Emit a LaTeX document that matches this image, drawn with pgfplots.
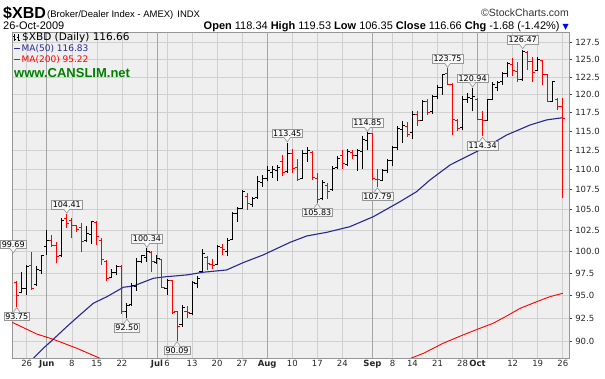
\documentclass[border=0pt]{standalone}
\usepackage{pgfplots}
\usepackage{pgfplotstable}
\usepackage{fontspec}
\pgfplotsset{compat=1.18}
\setmainfont{Liberation Sans}
\newfontfamily\dv{DejaVu Sans}
\definecolor{maBlue}{RGB}{40,40,150}
\definecolor{cgreen}{RGB}{0,128,0}
\definecolor{bgGray}{RGB}{239,239,239}
\definecolor{gridGray}{RGB}{208,208,208}
\definecolor{monthGray}{RGB}{165,165,165}
\definecolor{frameGray}{RGB}{150,150,150}
\definecolor{lblfill}{RGB}{246,246,246}
\definecolor{lblborder}{RGB}{150,150,150}

\pgfdeclareplotmark{otick}{\pgfpathmoveto{\pgfqpoint{-2.6pt}{0pt}}\pgfpathlineto{\pgfqpoint{0.4pt}{0pt}}\pgfusepathqstroke}
\pgfdeclareplotmark{ctick}{\pgfpathmoveto{\pgfqpoint{-0.4pt}{0pt}}\pgfpathlineto{\pgfqpoint{2.6pt}{0pt}}\pgfusepathqstroke}
\pgfdeclareplotmark{nomark}{}

\tikzset{lblbox/.style={draw=lblborder, fill=lblfill, inner xsep=1.4pt, inner ysep=1.3pt, font=\dv\fontsize{8}{9}\selectfont, line width=0.6pt}}
\newcommand{\hilab}[3]{%
  \node[lblbox, anchor=south] (L) at ([yshift=5pt]axis cs:#1,#2) {#3};
  \fill[lblfill] ([xshift=-3pt,yshift=0.7pt]L.south) -- ([yshift=1pt]axis cs:#1,#2) -- ([xshift=3pt,yshift=0.7pt]L.south) -- cycle;
  \draw[lblborder, line width=0.6pt] ([xshift=-3pt]L.south) -- ([yshift=1pt]axis cs:#1,#2) -- ([xshift=3pt]L.south);
}
\newcommand{\lolab}[3]{%
  \node[lblbox, anchor=north] (L) at ([yshift=-5pt]axis cs:#1,#2) {#3};
  \fill[lblfill] ([xshift=-3pt,yshift=-0.7pt]L.north) -- ([yshift=-1pt]axis cs:#1,#2) -- ([xshift=3pt,yshift=-0.7pt]L.north) -- cycle;
  \draw[lblborder, line width=0.6pt] ([xshift=-3pt]L.north) -- ([yshift=-1pt]axis cs:#1,#2) -- ([xshift=3pt]L.north);
}

\pgfplotstableread{
i o h l c d
0 96.4 96.6 93.75 95.0 1
1 95.3 97.6 95.2 95.7 0
2 95.8 98.4 95.0 98.2 0
3 98.4 99.9 95.6 95.8 1
4 96.2 98.3 96.0 97.9 0
5 97.8 99.6 97.4 99.5 0
6 100.5 102.5 99.6 101.3 0
7 101.3 101.9 100.5 100.7 1
8 100.7 101.1 98.6 99.4 1
9 99.5 103.9 99.3 103.7 0
10 103.9 104.41 102.7 103.3 1
11 103.6 103.9 101.5 103.0 1
12 103.0 103.1 102.3 102.6 1
13 102.8 103.3 99.9 101.1 1
14 101.3 103.0 101.1 102.1 0
15 102.0 103.6 100.9 103.5 0
16 103.4 103.6 100.7 101.7 1
17 101.2 101.5 98.4 99.0 1
18 98.8 99.0 96.6 96.9 1
19 97.0 97.9 96.9 97.6 0
20 97.5 98.4 97.3 98.2 0
21 98.2 98.4 93.0 93.2 1
22 93.2 94.2 92.50 93.9 0
23 94.0 96.4 93.8 96.1 0
24 96.0 99.2 95.5 98.8 0
25 98.8 99.6 98.6 99.5 0
26 99.3 100.34 98.8 100.0 0
27 99.9 100.0 97.6 98.8 1
28 98.7 99.6 98.5 99.2 0
29 99.0 99.1 95.8 95.9 1
30 95.8 96.8 95.0 96.6 0
31 96.6 96.7 92.9 93.1 1
32 93.2 93.3 90.09 91.6 1
33 91.8 93.9 91.6 93.6 0
34 93.2 93.8 92.5 93.1 1
35 93.0 96.6 92.8 96.4 0
36 96.3 97.2 95.8 96.9 0
37 97.7 100.2 97.6 99.7 0
38 99.3 99.4 97.8 98.6 1
39 98.5 99.1 98.0 98.4 1
40 98.5 100.7 98.4 100.5 0
41 100.4 100.9 99.6 100.2 1
42 100.0 101.6 99.4 101.3 0
43 101.4 104.7 101.3 104.5 0
44 104.5 105.3 103.5 105.1 0
45 105.1 107.4 105.1 107.2 0
46 106.6 107.0 104.9 105.7 1
47 105.6 106.5 105.3 106.3 0
48 106.4 109.1 106.3 108.5 0
49 108.3 109.3 107.8 108.9 0
50 108.9 110.4 108.5 109.8 0
51 109.6 110.4 108.9 110.0 0
52 109.8 110.6 108.5 110.3 0
53 111.0 111.9 109.1 109.6 1
54 109.7 113.45 109.5 112.0 0
55 112.0 112.7 109.5 110.1 1
56 110.2 111.4 108.5 108.7 1
57 108.9 112.5 108.9 112.0 0
58 112.1 112.9 111.0 112.5 0
59 112.2 112.4 108.7 109.0 1
60 108.9 109.5 105.83 106.2 1
61 106.3 108.7 106.1 108.3 0
62 108.0 108.3 106.3 107.2 1
63 107.4 110.4 107.3 110.1 0
64 110.2 111.7 110.1 111.4 0
65 111.8 112.5 110.1 110.8 1
66 110.6 112.7 110.4 112.3 0
67 112.2 112.5 111.4 111.8 1
68 111.8 112.6 109.8 112.4 0
69 112.3 114.3 110.1 113.9 0
70 113.8 114.85 112.5 114.7 0
71 114.7 114.8 108.7 108.9 1
72 108.7 110.0 107.79 108.7 1
73 108.6 110.1 108.5 109.9 0
74 109.8 111.4 109.5 111.2 0
75 111.1 113.0 110.4 112.8 0
76 112.8 115.7 112.5 115.3 0
77 115.2 116.4 113.5 115.8 0
78 115.6 116.3 114.2 114.6 1
79 114.8 117.7 114.0 117.3 0
80 117.2 117.7 115.7 116.4 1
81 116.5 119.3 116.4 119.0 0
82 119.0 119.4 117.2 117.6 1
83 117.7 119.9 117.4 119.7 0
84 119.7 121.3 119.4 121.0 0
85 121.0 123.0 120.0 122.8 0
86 123.0 123.75 121.3 121.5 1
87 121.5 121.6 114.5 116.6 1
88 116.4 116.6 115.0 115.3 1
89 115.5 119.8 115.2 119.3 0
90 119.4 120.3 118.9 119.6 0
91 119.5 120.94 117.7 119.8 0
92 119.4 119.5 116.5 116.6 1
93 116.6 117.7 114.34 116.5 1
94 116.5 119.4 116.4 119.3 0
95 119.3 121.8 119.2 121.4 0
96 121.0 121.9 120.5 121.7 0
97 121.8 123.2 121.4 123.0 0
98 123.0 124.7 122.5 124.4 0
99 124.3 125.2 122.7 123.4 1
100 123.3 124.7 121.8 122.1 1
101 122.1 126.47 121.9 126.2 0
102 126.0 126.3 123.5 124.8 1
103 124.8 125.4 121.8 123.2 1
104 123.4 125.4 123.3 125.0 0
105 124.9 125.0 121.3 122.8 1
106 122.8 122.9 119.0 119.1 1
107 119.1 122.0 119.0 121.8 0
108 119.3 119.5 117.9 118.34 1
109 118.34 119.53 106.35 116.66 1
}\ohlc

\begin{document}
\begin{tikzpicture}
\useasboundingbox (-12.3pt,-346pt) rectangle (592.7pt,32pt);
\begin{axis}[
  at={(0pt,0pt)}, anchor=north west,
  scale only axis, width=557pt, height=326pt,
  xmin=-0.88, xmax=110.3,
  ymode=log, ymin=88.31, ymax=129.1,
  clip mode=individual,
  axis line style={frameGray, line width=0.8pt},
  axis background/.style={fill=bgGray},
  grid=major,
  major grid style={gridGray, line width=0.6pt},
  xtick={2,11,16,21,26,30,35,40,45,55,60,65,75,79,84,89,94,99,104,109},
  xticklabels={26,8,15,22,,6,13,20,27,10,17,24,8,14,21,28,,12,19,26},
  extra x ticks={6,28,50,71,92},
  extra x tick labels={\textbf{Jun},\textbf{Jul},\textbf{Aug},\textbf{Sep},\textbf{Oct}},
  extra x tick style={major grid style={monthGray, line width=0.7pt}},
  xtick style={draw=none},
  xtick align=inside,
  ytick={90,92.5,95,97.5,100,102.5,105,107.5,110,112.5,115,117.5,120,122.5,125,127.5},
  yticklabels={90.0,92.5,95.0,97.5,100.0,102.5,105.0,107.5,110.0,112.5,115.0,117.5,120.0,122.5,125.0,127.5},
  ytick pos=right, yticklabel pos=right,
  ytick align=outside, major tick length=3pt,
  ytick style={black!75, line width=0.6pt},
  ticklabel style={font=\dv\fontsize{8.5}{10}\selectfont, text=black!85},
  xticklabel style={yshift=1pt},
  yticklabel style={xshift=-0.5pt},
  /pgf/number format/assume math mode=true,
]
% moving averages
\addplot[red, line width=0.9pt, forget plot] coordinates {(-0.9,92.05) (4.0,90.81) (7.3,90.25) (12.0,89.31) (16.6,88.28) (18.0,88.0)};
\addplot[red, line width=0.9pt, forget plot] coordinates {(76.5,87.9) (77.8,88.1) (81.2,88.79) (85.1,89.83) (89.1,90.71) (92.5,91.42) (95.1,91.95) (97.8,92.73) (100.5,93.57) (103.8,94.29) (106.4,94.84) (109,95.22)};
\addplot[maBlue, line width=1.1pt, forget plot] coordinates {(2.5,87.7) (3.0,88.1) (5.3,89.31) (7.3,90.25) (10.0,91.59) (12.6,92.84) (15.3,94.12) (18.0,94.84) (21.3,95.89) (23.3,96.03) (27.3,96.90) (29.9,97.08) (33.9,97.27) (37.2,97.58) (41.9,97.84) (45.2,98.68) (49.2,99.57) (54.6,101.05) (57.9,101.79) (61.9,102.23) (66.5,102.90) (71.2,104.11) (76.5,105.94) (79.8,107.18) (82.5,108.66) (86.5,110.57) (89.8,111.65) (93.8,112.95) (97.8,114.50) (102.5,115.85) (105.8,116.53) (109,116.83)};
% up bars (black)
\addplot[only marks, mark=nomark, black, forget plot, restrict expr to domain={\thisrow{d}}{0:0},
  error bars/.cd, y dir=plus, y explicit, error mark=none, error bar style={black, line width=1pt}]
  table[x=i, y=l, y error expr=\thisrow{h}-\thisrow{l}] {\ohlc};
\addplot[only marks, mark=otick, black, mark options={line width=1pt}, forget plot, restrict expr to domain={\thisrow{d}}{0:0}] table[x=i, y=o] {\ohlc};
\addplot[only marks, mark=ctick, black, mark options={line width=1pt}, forget plot, restrict expr to domain={\thisrow{d}}{0:0}] table[x=i, y=c] {\ohlc};
% down bars (red)
\addplot[only marks, mark=nomark, red, forget plot, restrict expr to domain={\thisrow{d}}{1:1},
  error bars/.cd, y dir=plus, y explicit, error mark=none, error bar style={red, line width=1pt}]
  table[x=i, y=l, y error expr=\thisrow{h}-\thisrow{l}] {\ohlc};
\addplot[only marks, mark=otick, red, mark options={line width=1pt}, forget plot, restrict expr to domain={\thisrow{d}}{1:1}] table[x=i, y=o] {\ohlc};
\addplot[only marks, mark=ctick, red, mark options={line width=1pt}, forget plot, restrict expr to domain={\thisrow{d}}{1:1}] table[x=i, y=c] {\ohlc};
% value labels
\hilab{-0.7}{99.69}{99.69}
\lolab{0}{93.75}{93.75}
\hilab{10}{104.41}{104.41}
\lolab{22}{92.50}{92.50}
\hilab{26}{100.34}{100.34}
\lolab{32}{90.09}{90.09}
\hilab{54}{113.45}{113.45}
\lolab{60}{105.83}{105.83}
\hilab{70}{114.85}{114.85}
\lolab{72}{107.79}{107.79}
\hilab{86}{123.75}{123.75}
\hilab{91}{120.94}{120.94}
\lolab{93}{114.34}{114.34}
\hilab{101}{126.47}{126.47}
\end{axis}
% header
\node[anchor=base west, inner sep=0pt, font=\fontsize{16}{18}\selectfont\bfseries] at (-9.3pt,14pt) {\$XBD};
\node[anchor=base west, inner sep=0pt, font=\fontsize{9.5}{11}\selectfont] at (34.7pt,15pt) {(Broker/Dealer Index - AMEX)\hspace{4pt}INDX};
\node[anchor=base east, inner sep=0pt, font=\fontsize{10.5}{12}\selectfont, text=black!80] at (556.7pt,16pt) {\textcopyright StockCharts.com};
\node[anchor=base west, inner sep=0pt, font=\fontsize{11}{12}\selectfont] at (-9.3pt,3pt) {26-Oct-2009};
\node[anchor=base east, inner sep=0pt, font=\fontsize{11}{12}\selectfont] at (556.7pt,3pt) {\textbf{Open} 118.34 \textbf{High} 119.53 \textbf{Low} 106.35 \textbf{Close} 116.66 \textbf{Chg} -1.68 (-1.42\%) {\dv\color{blue}\fontsize{8}{9}\selectfont ▼}};
% legend
\draw[black, line width=0.8pt] (2.5pt,-2pt) -- (2.5pt,-9pt) (1pt,-4pt) -- (2.5pt,-4pt) (2.5pt,-7pt) -- (4pt,-7pt);
\draw[black, line width=0.8pt] (6pt,-2pt) -- (6pt,-9pt) (4.5pt,-5pt) -- (6pt,-5pt) (6pt,-8pt) -- (7.5pt,-8pt);
\node[anchor=west, inner sep=0pt, font=\dv\fontsize{10.5}{12}\selectfont] at (9.7pt,-5.5pt) {\$XBD (Daily) 116.66};
\draw[maBlue, line width=1.8pt] (1.7pt,-16.5pt) -- (7.7pt,-16.5pt);
\node[anchor=west, inner sep=0pt, font=\dv\fontsize{9}{11}\selectfont, text=maBlue] at (9.2pt,-16.5pt) {MA(50) 116.83};
\draw[red, line width=1.8pt] (1.7pt,-27.5pt) -- (7.7pt,-27.5pt);
\node[anchor=west, inner sep=0pt, font=\dv\fontsize{9}{11}\selectfont, text=red] at (9.2pt,-27.5pt) {MA(200) 95.22};
\node[anchor=west, inner sep=0pt, font=\fontsize{13}{15}\selectfont\bfseries, text=cgreen] at (1.7pt,-41pt) {www.CANSLIM.net};
\end{tikzpicture}
\end{document}
